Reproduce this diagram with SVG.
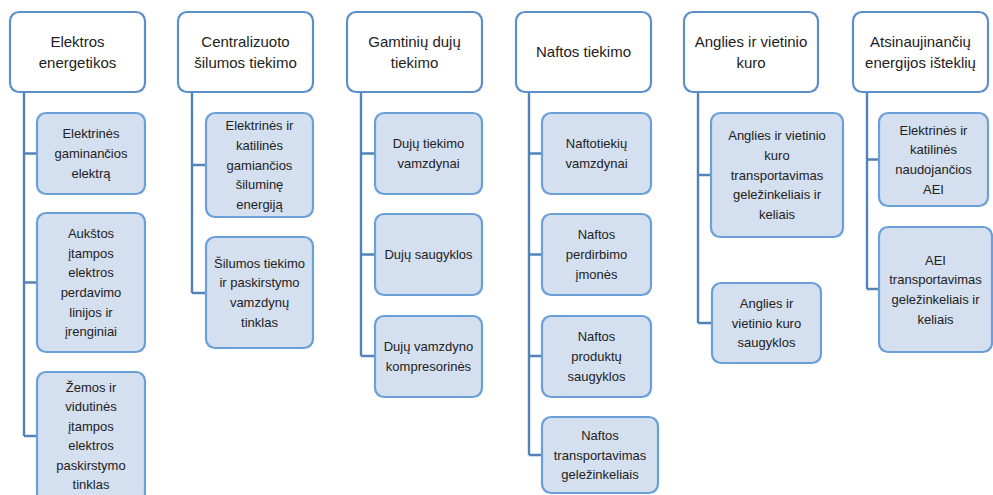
<svg xmlns="http://www.w3.org/2000/svg" width="993" height="495" viewBox="0 0 993 495">
  <style>
    .hdr rect { fill: #ffffff; stroke: #5b8fcc; stroke-width: 2.2; }
    .sub rect { fill: #d4dff0; stroke: #6a9fd8; stroke-width: 2.2; }
    text { font-family: "Liberation Sans", Arial, sans-serif; fill: #222222; text-anchor: middle; }
    .hdr text { font-size: 15px; }
    .sub text { font-size: 13px; }
    #connectors path { fill: none; stroke: #5282b8; stroke-width: 2.4; }
  </style>

  <!-- connectors: vertical spine from each header, horizontal branch to each child -->
  <g id="connectors">
    <path d="M24 92 V436 M24 153.5 H37 M24 282.5 H37 M24 436 H37"/>
    <path d="M192 92 V293 M192 165 H206 M192 293 H206"/>
    <path d="M361 92 V356 M361 153.5 H375 M361 254.5 H375 M361 356 H375"/>
    <path d="M529 92 V455 M529 153.5 H542 M529 254.5 H542 M529 356 H542 M529 455 H542"/>
    <path d="M698 92 V323 M698 175 H711 M698 323 H712"/>
    <path d="M867 92 V289 M867 159.5 H879 M867 289 H879"/>
  </g>

  <!-- column 1 -->
  <g id="h1" class="hdr">
    <rect x="10" y="12" width="135" height="80" rx="9"/>
    <text><tspan x="77.5" y="46.8">Elektros</tspan><tspan x="77.5" y="67.8">energetikos</tspan></text>
  </g>
  <g id="n1a" class="sub">
    <rect x="37" y="113" width="108" height="81" rx="9"/>
    <text><tspan x="91" y="138.4">Elektrinės</tspan><tspan x="91" y="158.1">gaminančios</tspan><tspan x="91" y="177.8">elektrą</tspan></text>
  </g>
  <g id="n1b" class="sub">
    <rect x="37" y="213" width="108" height="139" rx="9"/>
    <text><tspan x="91" y="237.8">Aukštos</tspan><tspan x="91" y="257.5">įtampos</tspan><tspan x="91" y="277.2">elektros</tspan><tspan x="91" y="296.9">perdavimo</tspan><tspan x="91" y="316.6">linijos ir</tspan><tspan x="91" y="336.3">įrenginiai</tspan></text>
  </g>
  <g id="n1c" class="sub">
    <rect x="37" y="372" width="108" height="130" rx="9"/>
    <text><tspan x="91" y="391.6">Žemos ir</tspan><tspan x="91" y="411.1">vidutinės</tspan><tspan x="91" y="430.6">įtampos</tspan><tspan x="91" y="450.1">elektros</tspan><tspan x="91" y="469.6">paskirstymo</tspan><tspan x="91" y="489.1">tinklas</tspan></text>
  </g>

  <!-- column 2 -->
  <g id="h2" class="hdr">
    <rect x="178" y="12" width="135" height="80" rx="9"/>
    <text><tspan x="245.5" y="46.8">Centralizuoto</tspan><tspan x="245.5" y="67.8">šilumos tiekimo</tspan></text>
  </g>
  <g id="n2a" class="sub">
    <rect x="206" y="113" width="107" height="104" rx="9"/>
    <text><tspan x="259.5" y="130.2">Elektrinės ir</tspan><tspan x="259.5" y="149.9">katilinės</tspan><tspan x="259.5" y="169.6">gamiančios</tspan><tspan x="259.5" y="189.3">šiluminę</tspan><tspan x="259.5" y="209">energiją</tspan></text>
  </g>
  <g id="n2b" class="sub">
    <rect x="206" y="237" width="107" height="111" rx="9"/>
    <text><tspan x="259.5" y="267.5">Šilumos tiekimo</tspan><tspan x="259.5" y="287.2">ir paskirstymo</tspan><tspan x="259.5" y="306.9">vamzdynų</tspan><tspan x="259.5" y="326.6">tinklas</tspan></text>
  </g>

  <!-- column 3 -->
  <g id="h3" class="hdr">
    <rect x="347" y="12" width="135" height="80" rx="9"/>
    <text><tspan x="414.5" y="46.8">Gamtinių dujų</tspan><tspan x="414.5" y="67.8">tiekimo</tspan></text>
  </g>
  <g id="n3a" class="sub">
    <rect x="375" y="113" width="107" height="81" rx="9"/>
    <text><tspan x="428.5" y="148.3">Dujų tiekimo</tspan><tspan x="428.5" y="168">vamzdynai</tspan></text>
  </g>
  <g id="n3b" class="sub">
    <rect x="375" y="214" width="107" height="81" rx="9"/>
    <text><tspan x="428.5" y="259.1">Dujų saugyklos</tspan></text>
  </g>
  <g id="n3c" class="sub">
    <rect x="375" y="316" width="107" height="81" rx="9"/>
    <text><tspan x="428.5" y="351.3">Dujų vamzdyno</tspan><tspan x="428.5" y="371">kompresorinės</tspan></text>
  </g>

  <!-- column 4 -->
  <g id="h4" class="hdr">
    <rect x="516" y="12" width="135" height="80" rx="9"/>
    <text><tspan x="583.5" y="57.3">Naftos tiekimo</tspan></text>
  </g>
  <g id="n4a" class="sub">
    <rect x="542" y="113" width="109" height="81" rx="9"/>
    <text><tspan x="596.5" y="148.3">Naftotiekių</tspan><tspan x="596.5" y="168">vamzdynai</tspan></text>
  </g>
  <g id="n4b" class="sub">
    <rect x="542" y="214" width="109" height="81" rx="9"/>
    <text><tspan x="596.5" y="239.4">Naftos</tspan><tspan x="596.5" y="259.1">perdirbimo</tspan><tspan x="596.5" y="278.8">įmonės</tspan></text>
  </g>
  <g id="n4c" class="sub">
    <rect x="542" y="316" width="109" height="81" rx="9"/>
    <text><tspan x="596.5" y="341.4">Naftos</tspan><tspan x="596.5" y="361.1">produktų</tspan><tspan x="596.5" y="380.8">saugyklos</tspan></text>
  </g>
  <g id="n4d" class="sub">
    <rect x="542" y="417" width="116" height="76" rx="9"/>
    <text><tspan x="600" y="439.9">Naftos</tspan><tspan x="600" y="459.6">transportavimas</tspan><tspan x="600" y="479.3">geležinkeliais</tspan></text>
  </g>

  <!-- column 5 -->
  <g id="h5" class="hdr">
    <rect x="684" y="12" width="134" height="80" rx="9"/>
    <text><tspan x="751" y="46.8">Anglies ir vietinio</tspan><tspan x="751" y="67.8">kuro</tspan></text>
  </g>
  <g id="n5a" class="sub">
    <rect x="711" y="113" width="132" height="124" rx="9"/>
    <text><tspan x="777" y="140.2">Anglies ir vietinio</tspan><tspan x="777" y="159.9">kuro</tspan><tspan x="777" y="179.6">transportavimas</tspan><tspan x="777" y="199.3">geležinkeliais ir</tspan><tspan x="777" y="219">keliais</tspan></text>
  </g>
  <g id="n5b" class="sub">
    <rect x="712" y="283" width="109" height="80" rx="9"/>
    <text><tspan x="766.5" y="307.9">Anglies ir</tspan><tspan x="766.5" y="327.6">vietinio kuro</tspan><tspan x="766.5" y="347.3">saugyklos</tspan></text>
  </g>

  <!-- column 6 -->
  <g id="h6" class="hdr">
    <rect x="853" y="12" width="135" height="80" rx="9"/>
    <text><tspan x="920.5" y="46.8">Atsinaujinančių</tspan><tspan x="920.5" y="67.8">energijos išteklių</tspan></text>
  </g>
  <g id="n6a" class="sub">
    <rect x="879" y="113" width="109" height="93" rx="9"/>
    <text><tspan x="933.5" y="134.5">Elektrinės ir</tspan><tspan x="933.5" y="154.2">katilinės</tspan><tspan x="933.5" y="173.9">naudojančios</tspan><tspan x="933.5" y="193.6">AEI</tspan></text>
  </g>
  <g id="n6b" class="sub">
    <rect x="879" y="227" width="113" height="125" rx="9"/>
    <text><tspan x="935.5" y="264.5">AEI</tspan><tspan x="935.5" y="284.2">transportavimas</tspan><tspan x="935.5" y="303.9">geležinkeliais ir</tspan><tspan x="935.5" y="323.6">keliais</tspan></text>
  </g>
</svg>
